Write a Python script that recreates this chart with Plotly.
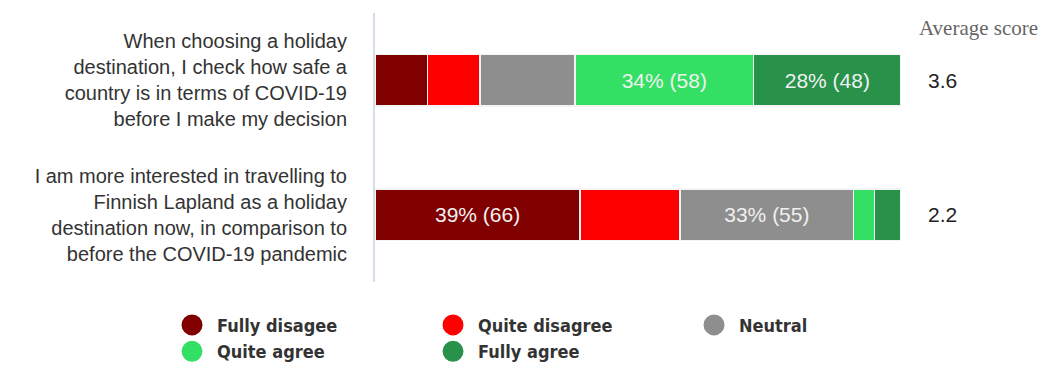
import plotly.graph_objects as go

# Survey statements (y categories, top to bottom)
statements = [
    "When choosing a holiday<br>destination, I check how safe a<br>country is in terms of COVID-19<br>before I make my decision",
    "I am more interested in travelling to<br>Finnish Lapland as a holiday<br>destination now, in comparison to<br>before the COVID-19 pandemic",
]

# Response levels and colours
levels = ["Fully disagee", "Quite disagree", "Neutral", "Quite agree", "Fully agree"]
colors = ["#800000", "#FF0000", "#8E8E8E", "#33E063", "#28924A"]

# Percent share per level, one value per statement
fully_disagree = [10, 39]
quite_disagree = [10, 19]
neutral = [18, 33]
quite_agree = [34, 4]
fully_agree = [28, 5]

# Response counts shown for the larger segments ("" = not labelled)
count_labels = {
    "Fully disagee": ["", "39% (66)"],
    "Quite disagree": ["", ""],
    "Neutral": ["", "33% (55)"],
    "Quite agree": ["34% (58)", ""],
    "Fully agree": ["28% (48)", ""],
}

average_scores = ["3.6", "2.2"]

shares = [fully_disagree, quite_disagree, neutral, quite_agree, fully_agree]

fig = go.Figure()
for name, color, vals in zip(levels, colors, shares):
    fig.add_trace(go.Bar(
        y=statements, x=vals, name=name, orientation="h",
        marker=dict(color=color, line=dict(color="#f4f4f4", width=1.5)),
        text=count_labels[name], textposition="inside", insidetextanchor="middle",
        textfont=dict(family="Liberation Sans, Arial", size=21, color="#f0f0f0"),
        showlegend=False, width=0.385, hoverinfo="skip",
    ))

# Legend entries with round markers (outline in the same colour enlarges the dot)
for name, color in zip(levels, colors):
    fig.add_trace(go.Scatter(
        x=[None], y=[None], mode="markers", name=name,
        marker=dict(symbol="circle", size=16, color=color,
                    line=dict(color=color, width=5)),
    ))

# Average score column
fig.add_annotation(
    text="Average score", xref="paper", yref="paper", x=1.03, y=0.946,
    xanchor="left", yanchor="middle", showarrow=False,
    font=dict(family="Liberation Serif, Times New Roman", size=21, color="#666666"),
)
for stmt, score in zip(statements, average_scores):
    fig.add_annotation(
        text=score, xref="paper", yref="y", x=1.048, y=stmt,
        xanchor="left", yanchor="middle", showarrow=False,
        font=dict(family="Liberation Sans, Arial", size=21, color="#222222"),
    )

fig.update_layout(
    barmode="stack",
    width=1048, height=365,
    margin=dict(l=375, r=147, t=12.5, b=82.5, autoexpand=False),
    paper_bgcolor="white", plot_bgcolor="white",
    xaxis=dict(range=[0, 100], visible=False, fixedrange=True),
    yaxis=dict(
        autorange="reversed", showgrid=False, zeroline=False,
        showline=True, linecolor="#d6dcea", linewidth=2,
        ticks="", ticklabelstandoff=22,
        tickfont=dict(family="Liberation Sans, Arial", size=20, color="#333333"),
    ),
    legend=dict(
        orientation="h", traceorder="normal",
        x=-0.3954, y=-0.092, xanchor="left", yanchor="top",
        itemwidth=40, entrywidth=206, entrywidthmode="pixels",
        font=dict(family="DejaVu Sans Condensed, Liberation Sans", size=18,
                  color="#333333", weight="bold"),
        itemclick=False, tracegroupgap=0,
    ),
    font=dict(family="Liberation Sans, Arial"),
)

fig.write_html("out.html")
